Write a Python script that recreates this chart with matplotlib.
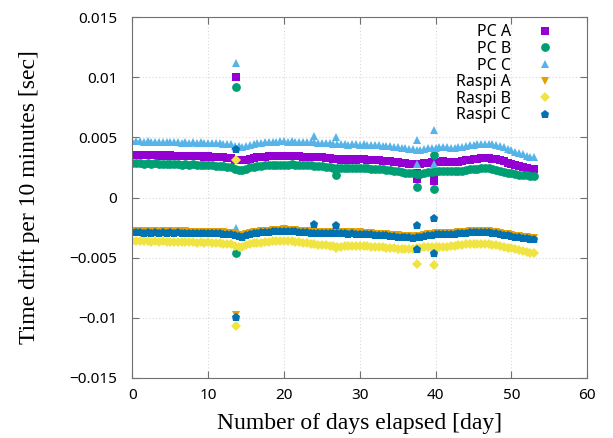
import numpy as np
import matplotlib
matplotlib.use("Agg")
import matplotlib.pyplot as plt

##########
# Data   #
##########
# sample every half day, values in milliseconds
days = np.arange(0, 53.01, 0.5)

pc_a = [3.57, 3.55, 3.56, 3.52, 3.54, 3.50, 3.53, 3.49, 3.51, 3.48, 3.50,
        3.46, 3.49, 3.45, 3.47, 3.43, 3.46, 3.42, 3.45, 3.41, 3.43,
        3.39, 3.41, 3.36, 3.33, 3.30, 3.28, 3.15, 3.10, 3.08, 3.16,
        3.24, 3.30, 3.34, 3.37, 3.40, 3.42, 3.44, 3.43, 3.45, 3.43,
        3.44, 3.46, 3.42, 3.43, 3.40, 3.41, 3.38, 3.39, 3.35, 3.34,
        3.30, 3.27, 3.22, 3.18, 3.16, 3.17, 3.15, 3.18, 3.16, 3.17,
        3.19, 3.15, 3.13, 3.10, 3.12, 3.07, 3.04, 3.01, 2.98, 2.94,
        2.90, 2.86, 2.82, 2.80, 2.77, 2.79, 2.86, 2.90, 2.93, 2.95,
        2.99, 3.01, 2.98, 2.96, 2.95, 2.99, 3.03, 3.09, 3.15, 3.19,
        3.23, 3.26, 3.28, 3.27, 3.24, 3.18, 3.10, 3.00, 2.90, 2.80,
        2.70, 2.60, 2.52, 2.45, 2.40, 2.38]
pc_b = [2.87, 2.84, 2.86, 2.82, 2.85, 2.80, 2.83, 2.79, 2.82, 2.78, 2.80,
        2.76, 2.79, 2.74, 2.77, 2.73, 2.75, 2.71, 2.74, 2.70, 2.72,
        2.68, 2.66, 2.62, 2.58, 2.55, 2.52, 2.38, 2.30, 2.28, 2.40,
        2.50, 2.56, 2.60, 2.64, 2.67, 2.69, 2.71, 2.70, 2.73, 2.72,
        2.73, 2.75, 2.71, 2.72, 2.69, 2.70, 2.67, 2.66, 2.62, 2.60,
        2.56, 2.52, 2.48, 2.45, 2.44, 2.46, 2.44, 2.47, 2.45, 2.46,
        2.48, 2.44, 2.41, 2.38, 2.40, 2.35, 2.32, 2.28, 2.24, 2.20,
        2.14, 2.08, 2.02, 2.00, 1.97, 1.99, 2.06, 2.12, 2.15, 2.18,
        2.22, 2.24, 2.21, 2.18, 2.17, 2.20, 2.24, 2.29, 2.34, 2.38,
        2.40, 2.42, 2.43, 2.42, 2.38, 2.32, 2.24, 2.15, 2.06, 2.00,
        1.94, 1.89, 1.86, 1.84, 1.83, 1.83]
pc_c = [4.70, 4.66, 4.68, 4.64, 4.66, 4.62, 4.65, 4.60, 4.63, 4.61, 4.64,
        4.58, 4.62, 4.57, 4.60, 4.56, 4.59, 4.55, 4.58, 4.54, 4.57,
        4.52, 4.55, 4.50, 4.47, 4.46, 4.44, 4.30, 4.25, 4.22, 4.30,
        4.38, 4.45, 4.50, 4.55, 4.58, 4.60, 4.63, 4.62, 4.66, 4.67,
        4.64, 4.66, 4.62, 4.63, 4.60, 4.62, 4.58, 4.60, 4.56, 4.55,
        4.52, 4.50, 4.46, 4.44, 4.42, 4.43, 4.40, 4.42, 4.41, 4.40,
        4.42, 4.38, 4.36, 4.33, 4.35, 4.30, 4.28, 4.25, 4.22, 4.18,
        4.12, 4.08, 4.02, 4.00, 3.96, 3.98, 4.05, 4.10, 4.12, 4.14,
        4.18, 4.20, 4.17, 4.15, 4.14, 4.18, 4.22, 4.28, 4.34, 4.38,
        4.42, 4.45, 4.47, 4.46, 4.43, 4.36, 4.27, 4.16, 4.04, 3.92,
        3.80, 3.68, 3.58, 3.48, 3.40, 3.35]
raspi_a = [-2.78, -2.81, -2.79, -2.82, -2.80, -2.83, -2.80, -2.84, -2.81, -2.83, -2.80,
           -2.84, -2.81, -2.85, -2.82, -2.86, -2.83, -2.87, -2.84, -2.86, -2.85,
           -2.87, -2.85, -2.88, -2.90, -2.91, -2.93, -3.06, -3.13, -3.16, -3.03,
           -2.93, -2.87, -2.83, -2.81, -2.77, -2.75, -2.71, -2.69, -2.67, -2.65,
           -2.67, -2.69, -2.73, -2.76, -2.79, -2.81, -2.83, -2.85, -2.84, -2.86,
           -2.87, -2.85, -2.88, -2.86, -2.89, -2.87, -2.90, -2.88, -2.91, -2.90,
           -2.92, -2.94, -2.97, -2.99, -3.01, -3.04, -3.06, -3.09, -3.12, -3.15,
           -3.18, -3.21, -3.23, -3.24, -3.21, -3.17, -3.11, -3.05, -3.01, -2.97,
           -2.95, -2.96, -2.94, -2.93, -2.91, -2.88, -2.86, -2.83, -2.81, -2.79,
           -2.77, -2.76, -2.77, -2.79, -2.83, -2.89, -2.96, -3.01, -3.06, -3.11,
           -3.16, -3.21, -3.25, -3.29, -3.33, -3.36]
raspi_b = [-3.60, -3.63, -3.61, -3.65, -3.62, -3.66, -3.63, -3.67, -3.64, -3.68, -3.66,
           -3.69, -3.67, -3.71, -3.68, -3.72, -3.70, -3.74, -3.71, -3.75, -3.73,
           -3.76, -3.78, -3.80, -3.83, -3.85, -3.88, -4.00, -4.08, -4.10, -3.98,
           -3.88, -3.82, -3.78, -3.74, -3.71, -3.68, -3.65, -3.63, -3.60, -3.58,
           -3.60, -3.63, -3.68, -3.72, -3.76, -3.80, -3.84, -3.88, -3.92, -3.95,
           -3.98, -4.02, -4.06, -4.10, -4.08, -4.04, -4.02, -4.00, -4.01, -3.99,
           -4.02, -4.04, -4.07, -4.10, -4.12, -4.15, -4.18, -4.20, -4.22, -4.24,
           -4.26, -4.28, -4.27, -4.25, -4.22, -4.18, -4.15, -4.12, -4.10, -4.09,
           -4.10, -4.11, -4.09, -4.06, -4.02, -3.98, -3.94, -3.90, -3.88, -3.86,
           -3.84, -3.83, -3.84, -3.87, -3.92, -3.98, -4.05, -4.12, -4.18, -4.22,
           -4.30, -4.38, -4.45, -4.52, -4.58, -4.62]
raspi_c = [-2.88, -2.90, -2.87, -2.91, -2.88, -2.92, -2.89, -2.93, -2.90, -2.92, -2.89,
           -2.93, -2.90, -2.94, -2.91, -2.95, -2.92, -2.96, -2.93, -2.95, -2.94,
           -2.96, -2.94, -2.97, -2.99, -3.00, -3.02, -3.15, -3.22, -3.25, -3.12,
           -3.02, -2.96, -2.92, -2.90, -2.86, -2.84, -2.80, -2.78, -2.76, -2.74,
           -2.76, -2.78, -2.82, -2.85, -2.88, -2.90, -2.92, -2.94, -2.93, -2.95,
           -2.96, -2.94, -2.97, -2.95, -2.98, -2.96, -2.99, -2.97, -3.00, -2.99,
           -3.01, -3.03, -3.06, -3.08, -3.10, -3.13, -3.15, -3.18, -3.21, -3.24,
           -3.27, -3.30, -3.32, -3.33, -3.30, -3.26, -3.20, -3.14, -3.10, -3.06,
           -3.04, -3.05, -3.03, -3.02, -3.00, -2.97, -2.95, -2.92, -2.90, -2.88,
           -2.86, -2.85, -2.86, -2.88, -2.92, -2.98, -3.05, -3.10, -3.15, -3.20,
           -3.25, -3.30, -3.34, -3.38, -3.42, -3.44]

# outliers (day, ms)
pc_a_out_days = [13.7, 37.5, 37.5, 39.8, 39.8]
pc_a_out = [10.0, 2.0, 1.5, 1.9, 1.4]
pc_b_out_days = [13.7, 13.7, 26.9, 37.5, 39.8, 39.8]
pc_b_out = [9.2, -4.6, 1.9, 0.86, 3.5, 0.72]
pc_c_out_days = [13.7, 13.7, 23.9, 26.9, 37.5, 37.5, 39.8, 39.8]
pc_c_out = [11.2, -2.5, 5.1, 5.0, 4.8, 2.8, 5.6, 2.8]
raspi_a_out_days = [13.7]
raspi_a_out = [-9.8]
raspi_b_out_days = [13.7, 13.7, 26.9, 37.5, 39.8]
raspi_b_out = [3.1, -10.7, -4.2, -5.5, -5.6]
raspi_c_out_days = [13.7, 13.7, 23.9, 26.9, 37.5, 37.5, 39.8, 39.8]
raspi_c_out = [4.0, -9.9, -2.2, -2.3, -2.27, -4.3, -1.66, -4.6]

series = [
    ("PC A", pc_a, pc_a_out_days, pc_a_out, "#9400D3", "s"),
    ("PC B", pc_b, pc_b_out_days, pc_b_out, "#009E73", "o"),
    ("PC C", pc_c, pc_c_out_days, pc_c_out, "#56B4E9", "^"),
    ("Raspi A", raspi_a, raspi_a_out_days, raspi_a_out, "#E69F00", "v"),
    ("Raspi B", raspi_b, raspi_b_out_days, raspi_b_out, "#F0E442", "D"),
    ("Raspi C", raspi_c, raspi_c_out_days, raspi_c_out, "#0072B2", "p"),
]

############
# Plotting #
############
fig = plt.figure(figsize=(6.13, 4.38), dpi=100)
ax = fig.add_axes([0.216, 0.137, 0.742, 0.824])

for name, vals, odays, ovals, color, mk in series:
    ms = 6.3 if mk != "D" else 5.2
    x = np.concatenate([days, odays])
    y = np.concatenate([vals, ovals]) * 1e-3
    ax.plot(x, y, linestyle="none", marker=mk, color=color, markersize=ms,
            markeredgewidth=0, label=name)

ax.set_xlim(0, 60)
ax.set_ylim(-0.015, 0.015)
ax.set_xticks(range(0, 61, 10))
ax.set_yticks([-0.015, -0.01, -0.005, 0, 0.005, 0.01, 0.015])
ax.set_yticklabels(["\u22120.015", "\u22120.01", "\u22120.005", "0", "0.005", "0.01", "0.015"])
ax.grid(True, color="#d8d8d8", linestyle=(0, (1, 2)), linewidth=0.8)
ax.tick_params(direction="in", top=True, right=True, length=5, color="#707070",
               labelsize=11)
ax.tick_params(axis="y", pad=11)
ax.tick_params(axis="x", pad=7)
for lab in ax.get_xticklabels() + ax.get_yticklabels():
    lab.set_family("Noto Sans")
for sp in ax.spines.values():
    sp.set_color("#707070")

ax.set_xlabel("Number of days elapsed [day]", family="Liberation Serif", fontsize=17)
ax.set_ylabel("Time drift per 10 minutes [sec]", family="Liberation Serif", fontsize=17)
ax.xaxis.set_label_coords(0.5, -0.097)
ax.yaxis.set_label_coords(-0.203, 0.5)

leg = ax.legend(loc="upper right", bbox_to_anchor=(0.94, 1.0), frameon=False,
                markerfirst=False, prop={"family": "Noto Sans", "size": 11.5},
                handletextpad=1.6, labelspacing=0.04, borderaxespad=0.05,
                handlelength=1.0)

fig.savefig("out.png", dpi=100)
